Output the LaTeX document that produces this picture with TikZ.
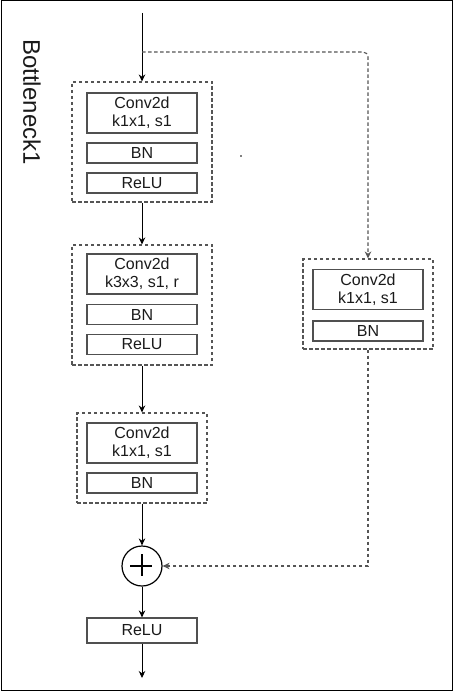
\documentclass[tikz,border=0pt]{standalone}
\usepackage{fontspec}
\setmainfont{Liberation Sans}
\usetikzlibrary{arrows.meta}
\definecolor{boxline}{HTML}{505050}
\definecolor{dashline}{HTML}{555555}
\definecolor{txt}{HTML}{1A1A1A}
\tikzset{
	layer/.style={draw=boxline, line width=1.2pt, minimum width=110pt, minimum height=20pt, inner sep=0pt, text=txt, align=center, font=\fontsize{16}{18}\selectfont},
	convlayer/.style={layer, minimum height=40pt},
	frame/.style={draw=dashline, line width=1.1pt, dash pattern=on 3.5pt off 2.5pt, inner sep=0pt},
	flow/.style={line width=0.9pt, -{Stealth[length=7pt,width=6.5pt]}},
	skip/.style={draw=dashline, line width=1.1pt, dash pattern=on 3.5pt off 2.5pt, -{Stealth[length=7pt,width=6.5pt]}}
}
\begin{document}
\begin{tikzpicture}[x=1pt,y=-1pt]
		\useasboundingbox (0,0) rectangle (455,692);
		\draw[black, line width=1pt] (1,1) rectangle (452,690);
		\node[rotate=-90, font=\fontsize{24}{28}\selectfont, text=txt] (title) at (32,102) {Bottleneck1};
		\node[frame, minimum width=140pt, minimum height=120pt] (b1) at (142,142) {};
		\node[convlayer] (conv1) at (142,113) {Conv2d\\k1x1, s1};
		\node[layer] (bn1) at (142,153) {BN};
		\node[layer] (relu1) at (142,183) {ReLU};
		\node[frame, minimum width=140pt, minimum height=120pt] (b2) at (142,305) {};
		\node[convlayer] (conv2) at (142,274) {Conv2d\\k3x3, s1, r};
		\node[layer] (bn2) at (142,314.5) {BN};
		\node[layer] (relu2) at (142,344.5) {ReLU};
		\node[frame, minimum width=130pt, minimum height=90pt] (b3) at (142,458) {};
		\node[convlayer] (conv3) at (142,443) {Conv2d\\k1x1, s1};
		\node[layer] (bn3) at (142,483) {BN};
		\node[frame, minimum width=130pt, minimum height=90pt] (bs) at (368,304) {};
		\node[convlayer] (convs) at (368,289.5) {Conv2d\\k1x1, s1};
		\node[layer] (bns) at (368,331) {BN};
		\node[draw=black, line width=1.2pt, circle, minimum size=40pt, inner sep=0pt] (add) at (142,566) {};
		\draw[line width=1.2pt] (add.north) ++(0,9) -- ++(0,22) (add.west) ++(9,0) -- ++(22,0);
		\node[layer, minimum height=25pt] (relu4) at (142,630.5) {ReLU};
		\coordinate (in) at (142,13);
		\coordinate (split) at (142,52);
		\coordinate (out) at (142,678);
		\fill[black] (241,156) circle (0.9pt);
		\draw[flow] (in) -- (b1.north);
		\draw[flow] (b1.south) -- (b2.north);
		\draw[flow] (b2.south) -- (b3.north);
		\draw[flow] (b3.south) -- (add.north);
		\draw[flow] (add.south) -- (relu4.north);
		\draw[flow] (relu4.south) -- (out);
		\draw[skip, rounded corners=5pt] (split) -| (bs.north);
		\draw[skip] (bs.south) |- (add.east);
	\end{tikzpicture}
\end{document}
